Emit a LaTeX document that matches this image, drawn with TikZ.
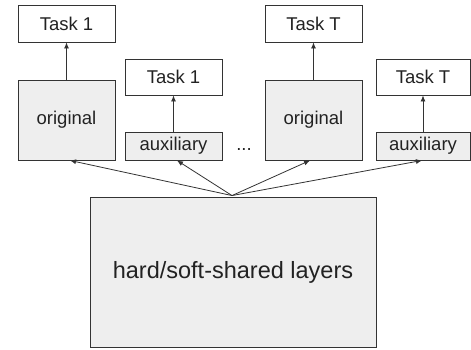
\documentclass[tikz,border=0pt]{standalone}
\usepackage{fontspec}
\setmainfont{Liberation Sans}
\usetikzlibrary{arrows.meta,calc}
\definecolor{boxfill}{HTML}{EEEEEE}
\definecolor{edge}{HTML}{333333}
\definecolor{txt}{HTML}{222222}
\begin{document}
\begin{tikzpicture}[x=1pt,y=-1pt,
  box/.style={draw=edge,line width=0.9pt,inner sep=0pt,text=txt,font=\fontsize{18.5}{20}\selectfont},
  taskbox/.style={box,fill=white},
  grey/.style={box,fill=boxfill},
  conn/.style={draw=edge,line width=0.8pt,-{Latex[length=6pt,width=5pt]}}]
\useasboundingbox (0,0) rectangle (471,349);
\node[taskbox,minimum width=97pt,minimum height=37pt] (t1) at (66.5,23.5) {Task 1};
\node[grey,minimum width=97pt,minimum height=80pt] (o1) at (66.5,120) {original};
\node[taskbox,minimum width=97pt,minimum height=36pt] (t1b) at (173.5,77) {Task 1};
\node[grey,minimum width=97pt,minimum height=28pt] (a1) at (173.5,146) {auxiliary};
\node[taskbox,minimum width=97pt,minimum height=37pt] (tT) at (313.5,23.5) {Task T};
\node[grey,minimum width=97pt,minimum height=80pt] (oT) at (313.5,120) {original};
\node[taskbox,minimum width=94pt,minimum height=36pt] (tTb) at (423,77) {Task T};
\node[grey,minimum width=94pt,minimum height=28pt] (aT) at (423,146) {auxiliary};
\node[grey,minimum width=286pt,minimum height=150pt,font=\fontsize{23.5}{26}\selectfont] (big) at (233,272) {hard/soft-shared layers};
\node[anchor=base,inner sep=0pt,text=txt,font=\fontsize{18.5}{20}\selectfont] (dots) at (244,150) {...};
\coordinate (hub) at ($(big.north)+(-1,-1)$);
\draw[conn] (o1.north) -- (t1.south);
\draw[conn] (a1.north) -- (t1b.south);
\draw[conn] (oT.north) -- (tT.south);
\draw[conn] (aT.north) -- (tTb.south);
\draw[conn] (hub) -- ($(o1.south)+(3.5,0)$);
\draw[conn] (hub) -- ($(a1.south)+(3.5,0)$);
\draw[conn] (hub) -- ($(oT.south)+(-3.5,0)$);
\draw[conn] (hub) -- ($(aT.south)+(-1,0)$);
\end{tikzpicture}
\end{document}
